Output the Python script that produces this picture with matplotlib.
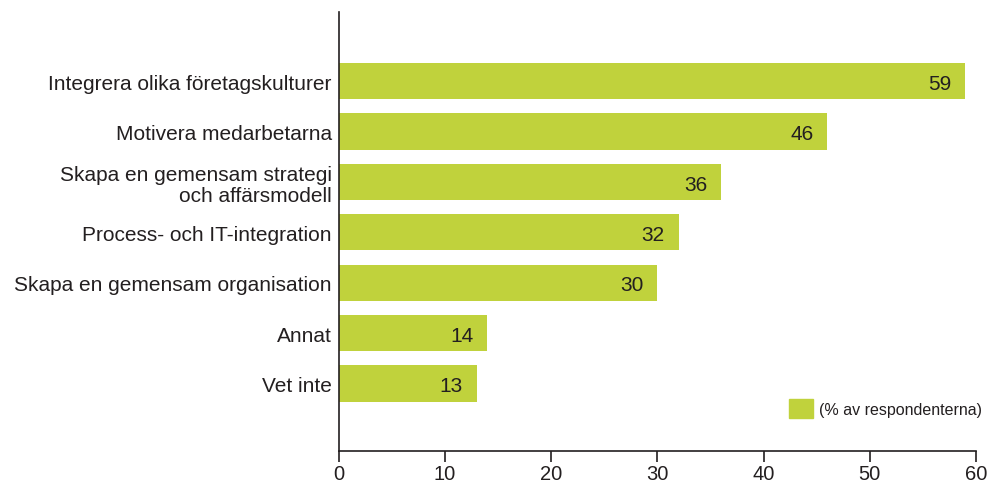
import matplotlib.pyplot as plt
from matplotlib.patches import Patch

categories = ["Integrera olika företagskulturer",
              "Motivera medarbetarna",
              "Skapa en gemensam strategi\noch affärsmodell",
              "Process- och IT-integration",
              "Skapa en gemensam organisation",
              "Annat",
              "Vet inte"]
values = [59, 46, 36, 32, 30, 14, 13]
legend_label = "(% av respondenterna)"

bar_color = "#c0d23c"
text_color = "#231f20"

plt.rcParams['font.family'] = ['Liberation Sans', 'DejaVu Sans']

fig = plt.figure(figsize=(9.88, 4.85), dpi=100)
ax = fig.add_axes([0.3428, 0.068, 0.6450, 0.905])

pos = list(range(len(categories)))
rects = ax.barh(pos, values, height=0.72, color=bar_color)

for rect, v in zip(rects, values):
    ax.annotate(str(v), xy=(rect.get_width(), rect.get_y() + rect.get_height() / 2),
                xytext=(-10, -1.5), textcoords="offset points",
                ha='right', va='center', fontsize=15, color=text_color)

ax.set_ylim(7.34, -1.37)
ax.set_xlim(0, 60)
ax.set_xticks(range(0, 61, 10))
ax.set_yticks(pos)
ax.set_yticklabels(categories, fontsize=15, color=text_color, ha='right',
                   linespacing=1.15)
ax.tick_params(axis='y', length=0, pad=5)
ax.tick_params(axis='x', direction='out', length=8, width=1.2, labelsize=14.5,
               colors=text_color, pad=1.5)
for s in ['top', 'right']:
    ax.spines[s].set_visible(False)
for s in ['left', 'bottom']:
    ax.spines[s].set_color(text_color)
    ax.spines[s].set_linewidth(1.2)

fig.legend(handles=[Patch(color=bar_color, label=legend_label)], loc='upper left',
           bbox_to_anchor=(789 / 988, 1 - 400 / 485), frameon=False, fontsize=11.5,
           handlelength=1.5, handleheight=1.5, handletextpad=0.4,
           borderpad=0, borderaxespad=0, labelcolor=text_color)

plt.savefig("out.png", dpi=100)
